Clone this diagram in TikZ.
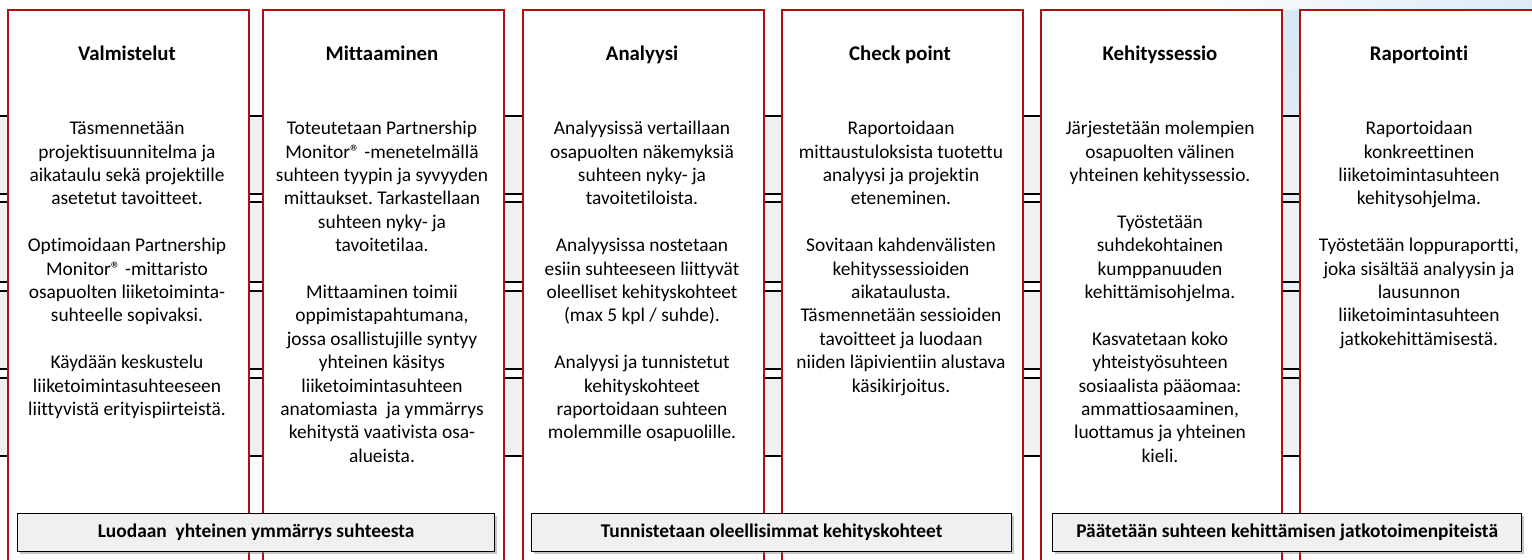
\documentclass[tikz,border=0pt]{standalone}
\usepackage{fontspec}
\setmainfont{Carlito}[Ligatures=CommonOff]
\usetikzlibrary{shadows}
\definecolor{colred}{RGB}{178,16,16}
\definecolor{bandgray}{RGB}{240,240,240}
\definecolor{barfill}{RGB}{240,240,240}
\definecolor{swoosh}{RGB}{214,230,244}
\newcommand{\pgap}{\\[11.7pt]}
\frenchspacing
\tikzset{
  phasebox/.style={draw=colred, line width=1.1pt, fill=white, anchor=north west,
    minimum width=120.5pt, minimum height=290pt, inner sep=0pt},
  phasetitle/.style={anchor=base, inner sep=0pt, font=\fontsize{10.4}{12.5}\selectfont\bfseries},
  phasebody/.style={anchor=north, inner sep=0pt, align=center,
    font=\fontsize{9.7}{11.7}\selectfont},
  stagebar/.style={draw=black, line width=0.6pt, fill=barfill, anchor=north west,
    minimum height=19pt, inner sep=0pt, font=\fontsize{9.7}{11.7}\selectfont\bfseries,
    drop shadow={shadow xshift=1.3pt, shadow yshift=-1.3pt, opacity=0.45}},
  bandline/.style={draw=black, line width=0.7pt}
}
\begin{document}
\begin{tikzpicture}[x=0.5pt, y=-0.5pt]
  \useasboundingbox (0,0) rectangle (1532,559);
  \clip (0,0) rectangle (1532,559);
  \fill[white] (0,0) rectangle (1532,559);

  % soft blue swoosh in the background
  \shade[top color=swoosh, bottom color=white, middle color=swoosh!50]
    (1225,0) .. controls (1265,60) and (1282,200) .. (1286,559)
    -- (1300,559) .. controls (1305,200) and (1325,60) .. (1390,0) -- cycle;
  \shade[left color=white, right color=swoosh!80] (1150,0) rectangle (1532,9);

  % horizontal bands behind the phases
  \foreach \a/\b in {116/194, 202/282, 291/369, 378/456} {
    \fill[bandgray] (0,\a) rectangle (1532,\b);
    \draw[bandline] (0,\a) -- (1532,\a);
    \draw[bandline] (0,\b) -- (1532,\b);
  }

  % phase columns
  \node[phasebox] (c1) at (7,9) {};
  \node[phasebox] (c2) at (262,9) {};
  \node[phasebox] (c3) at (522,9) {};
  \node[phasebox] (c4) at (781,9) {};
  \node[phasebox] (c5) at (1040,9) {};
  \node[phasebox] (c6) at (1299,9) {};

  % titles
  \node[phasetitle] (t1) at (127,60) {Valmistelut};
  \node[phasetitle] (t2) at (382,60) {Mittaaminen};
  \node[phasetitle] (t3) at (642,60) {Analyysi};
  \node[phasetitle] (t4) at (900,60) {Check point};
  \node[phasetitle] (t5) at (1160,60) {Kehityssessio};
  \node[phasetitle] (t6) at (1419,60) {Raportointi};

  % descriptions
  \node[phasebody] (b1) at (127,118) {\strut Täsmennetään\\projektisuunnitelma ja\\aikataulu sekä projektille\\asetetut tavoitteet.\pgap
    Optimoidaan Partnership\\Monitor® -mittaristo\\osapuolten liiketoiminta-\\suhteelle sopivaksi.\pgap
    Käydään keskustelu\\liiketoimintasuhteeseen\\liittyvistä erityispiirteistä.};
  \node[phasebody] (b2) at (382,118) {\strut Toteutetaan Partnership\\Monitor® -menetelmällä\\suhteen tyypin ja syvyyden\\mittaukset. Tarkastellaan\\suhteen nyky- ja\\tavoitetilaa.\pgap
    Mittaaminen toimii\\oppimistapahtumana,\\jossa osallistujille syntyy\\yhteinen käsitys\\liiketoimintasuhteen\\anatomiasta\ \ ja ymmärrys\\kehitystä vaativista osa-\\alueista.};
  \node[phasebody] (b3) at (642,118) {\strut Analyysissä vertaillaan\\osapuolten näkemyksiä\\suhteen nyky- ja\\tavoitetiloista.\pgap
    Analyysissa nostetaan\\esiin suhteeseen liittyvät\\oleelliset kehityskohteet\\(max 5 kpl / suhde).\pgap
    Analyysi ja tunnistetut\\kehityskohteet\\raportoidaan suhteen\\molemmille osapuolille.};
  \node[phasebody] (b4) at (901,118) {\strut Raportoidaan\\mittaustuloksista tuotettu\\analyysi ja projektin\\eteneminen.\pgap
    Sovitaan kahdenvälisten\\kehityssessioiden\\aikataulusta.\\Täsmennetään sessioiden\\tavoitteet ja luodaan\\niiden läpivientiin alustava\\käsikirjoitus.};
  \node[phasebody] (b5) at (1160,118) {\strut Järjestetään molempien\\osapuolten välinen\\yhteinen kehityssessio.\pgap
    Työstetään\\suhdekohtainen\\kumppanuuden\\kehittämisohjelma.\pgap
    Kasvatetaan koko\\yhteistyösuhteen\\sosiaalista pääomaa:\\ammattiosaaminen,\\luottamus ja yhteinen\\kieli.};
  \node[phasebody] (b6) at (1419,118) {\strut Raportoidaan\\konkreettinen\\liiketoimintasuhteen\\kehitysohjelma.\pgap
    Työstetään loppuraportti,\\joka sisältää analyysin ja\\lausunnon\\liiketoimintasuhteen\\jatkokehittämisestä.};

  % stage bars along the bottom
  \node[stagebar, minimum width=238.5pt] (s1) at (17,513) {Luodaan\ \ yhteinen ymmärrys suhteesta};
  \node[stagebar, minimum width=240pt] (s2) at (531,513) {Tunnistetaan oleellisimmat kehityskohteet};
  \node[stagebar, minimum width=234.5pt] (s3) at (1052,513) {Päätetään suhteen kehittämisen jatkotoimenpiteistä};
\end{tikzpicture}
\end{document}
